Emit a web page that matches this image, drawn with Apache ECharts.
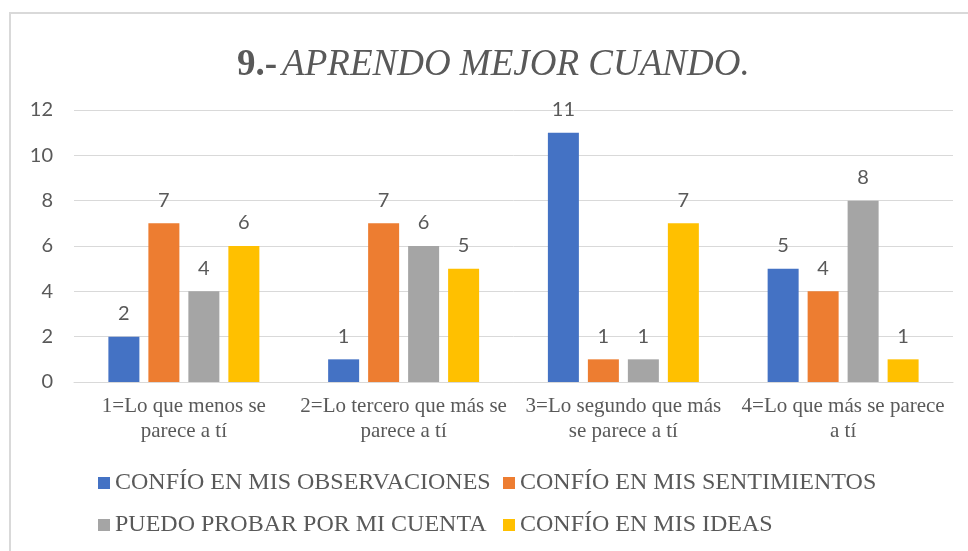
<!DOCTYPE html>
<html lang="es">
<head>
    <meta charset="UTF-8">
    <title>9.- APRENDO MEJOR CUANDO.</title>
    <script src="https://cdn.jsdelivr.net/npm/echarts@6/dist/echarts.min.js"></script>
    <style>
        html, body { margin: 0; padding: 0; background: #fff; }
    </style>
</head>
<body>
    <div id="myChart" style="width: 968px;height: 551px;"></div>

    <script>
        // categorias (con salto de linea como en el original)
        const categorias = [
            '1=Lo que menos se\nparece a tí',
            '2=Lo tercero que más se\nparece a tí',
            '3=Lo segundo que más\nse parece a tí',
            '4=Lo que más se parece\na tí'
        ];
        const nombres = [
            'CONFÍO EN MIS OBSERVACIONES',
            'CONFÍO EN MIS SENTIMIENTOS',
            'PUEDO PROBAR POR MI CUENTA',
            'CONFÍO EN MIS IDEAS'
        ];
        const observaciones = [2, 1, 11, 5];
        const sentimientos = [7, 7, 1, 4];
        const probar = [4, 6, 1, 8];
        const ideas = [6, 5, 7, 1];
        const colores = ['#4472C4', '#ED7D31', '#A5A5A5', '#FFC000'];

        const gris = '#595959';
        const serif = '"Liberation Serif", serif';
        const sans = 'Lato, sans-serif';

        function serie(nombre, datos, color) {
            return {
                name: nombre,
                type: 'bar',
                data: datos,
                barWidth: 31,
                barGap: '29%',
                itemStyle: { color: color },
                label: {
                    show: true,
                    position: 'top',
                    distance: 13,
                    color: gris,
                    fontFamily: sans,
                    fontSize: 20
                }
            };
        }

        // una leyenda por fila, para que las columnas queden alineadas
        function leyenda(datos, top) {
            return {
                data: datos,
                left: 93,
                top: top,
                itemWidth: 12,
                itemHeight: 12,
                itemGap: 8,
                icon: 'rect',
                formatter: name => '{t|' + name + '}',
                textStyle: {
                    color: gris,
                    rich: {
                        t: { fontFamily: serif, fontSize: 24, color: gris, width: 380, lineHeight: 34 }
                    }
                }
            };
        }

        const chart = echarts.init(document.getElementById('myChart'));
        const option = {
            animation: false,
            backgroundColor: '#fff',
            graphic: [{
                type: 'rect',
                shape: { x: 10, y: 13, width: 970, height: 560 },
                style: { fill: 'none', stroke: '#D9D9D9', lineWidth: 2 },
                silent: true
            }],
            title: {
                left: 232,
                top: 42,
                text: '{a|9.-} {b|APRENDO MEJOR CUANDO.}',
                textStyle: {
                    fontWeight: 'normal',
                    rich: {
                        a: { fontFamily: serif, fontSize: 37, fontWeight: 'bold', color: gris },
                        b: { fontFamily: serif, fontSize: 37, fontStyle: 'italic', fontWeight: 'normal', color: gris }
                    }
                }
            },
            legend: [
                leyenda([nombres[0], nombres[1]], 466),
                leyenda([nombres[2], nombres[3]], 508)
            ],
            grid: { left: 74, right: 15, top: 110, bottom: 169, containLabel: false },
            xAxis: {
                type: 'category',
                data: categorias,
                axisLine: { lineStyle: { color: '#D9D9D9' } },
                axisTick: { show: false },
                axisLabel: {
                    interval: 0,
                    margin: 12,
                    formatter: v => v.split('\n').map(s => '{c|' + s + '}').join('\n'),
                    rich: {
                        c: { fontFamily: serif, fontSize: 21, lineHeight: 25, color: gris }
                    }
                }
            },
            yAxis: {
                type: 'value',
                min: 0,
                max: 12,
                interval: 2,
                axisLine: { show: false },
                axisTick: { show: false },
                splitLine: { lineStyle: { color: '#D9D9D9' } },
                axisLabel: {
                    margin: 21,
                    color: gris,
                    fontFamily: sans,
                    fontSize: 20
                }
            },
            series: [
                serie(nombres[0], observaciones, colores[0]),
                serie(nombres[1], sentimientos, colores[1]),
                serie(nombres[2], probar, colores[2]),
                serie(nombres[3], ideas, colores[3])
            ]
        };
        chart.setOption(option);
    </script>
</body>
</html>
